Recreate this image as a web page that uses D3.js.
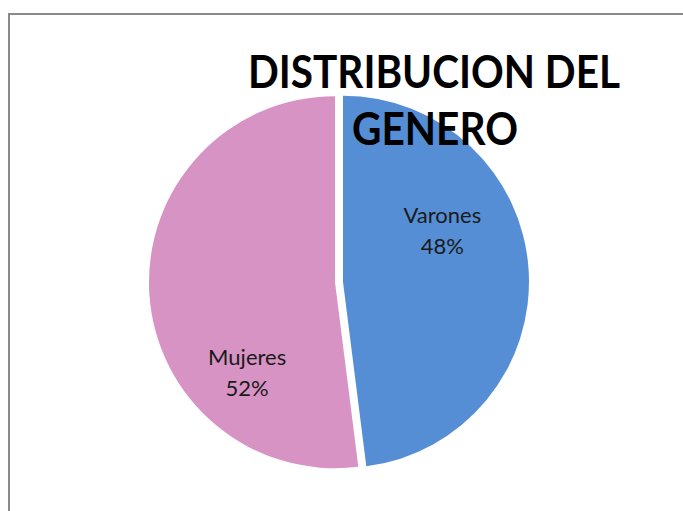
<!DOCTYPE html>
<html>
<head>
<meta charset="utf-8">
<script src="https://cdn.jsdelivr.net/npm/d3@7"></script>
<style>
  body { margin: 0; background: #fff; }
  text { font-family: Lato, "Open Sans", sans-serif; }
</style>
</head>
<body>
<div id="chart"></div>
<script>
// chart data
let categories = ["Varones", "Mujeres"];
let values = [48, 52];
let colors = ["#558ED5", "#D793C3"];
let titleLines = ["DISTRIBUCION DEL", "GENERO"];

let width = 683, height = 511;
let cx = 339, cy = 282, radius = 186, explode = 4;

let svg = d3.select("#chart").append("svg")
  .attr("width", width).attr("height", height);

// chart frame (runs off the page on the right and bottom)
svg.append("rect")
  .attr("x", 9).attr("y", 14)
  .attr("width", 700).attr("height", 520)
  .attr("fill", "#fff")
  .attr("stroke", "#8a8a8a").attr("stroke-width", 2);

let pie = d3.pie().sort(null).value(d => d.value);
let arc = d3.arc().innerRadius(0).outerRadius(radius);

let data = categories.map((c, i) => ({ name: c, value: values[i], color: colors[i] }));
let arcs = pie(data);
let total = d3.sum(values);

// label anchor, as [angle in degrees from 12 o'clock, fraction of radius] - excel-ish placement
let labelPlace = [[63, 0.6], [224, 0.68]];

let g = svg.append("g").attr("transform", "translate(" + cx + "," + cy + ")");

let slice = g.selectAll(".slice").data(arcs).enter().append("g")
  .attr("class", "slice")
  .attr("transform", function(d) {
    let a = (d.startAngle + d.endAngle) / 2;
    return "translate(" + (Math.sin(a) * explode) + "," + (-Math.cos(a) * explode) + ")";
  });

slice.append("path")
  .attr("d", arc)
  .attr("fill", d => d.data.color);

slice.each(function(d, i) {
  let a = labelPlace[i][0] * Math.PI / 180, r = labelPlace[i][1] * radius;
  let lx = Math.sin(a) * r, ly = -Math.cos(a) * r;
  let t = d3.select(this).append("text")
    .attr("text-anchor", "middle")
    .attr("font-size", 22)
    .attr("fill", "#1a1a1a");
  t.append("tspan").attr("x", lx).attr("y", ly - 8).text(d.data.name);
  t.append("tspan").attr("x", lx).attr("y", ly + 23)
    .text(Math.round(d.data.value / total * 100) + "%");
});

// title drawn over the pie
let title = svg.append("text")
  .attr("text-anchor", "middle")
  .attr("font-size", 46)
  .attr("font-weight", "bold")
  .attr("fill", "#000");
title.append("tspan").attr("x", 434).attr("y", 88)
  .attr("textLength", 372).attr("lengthAdjust", "spacingAndGlyphs")
  .text(titleLines[0]);
title.append("tspan").attr("x", 435).attr("y", 145)
  .attr("textLength", 166).attr("lengthAdjust", "spacingAndGlyphs")
  .text(titleLines[1]);
</script>
</body>
</html>
